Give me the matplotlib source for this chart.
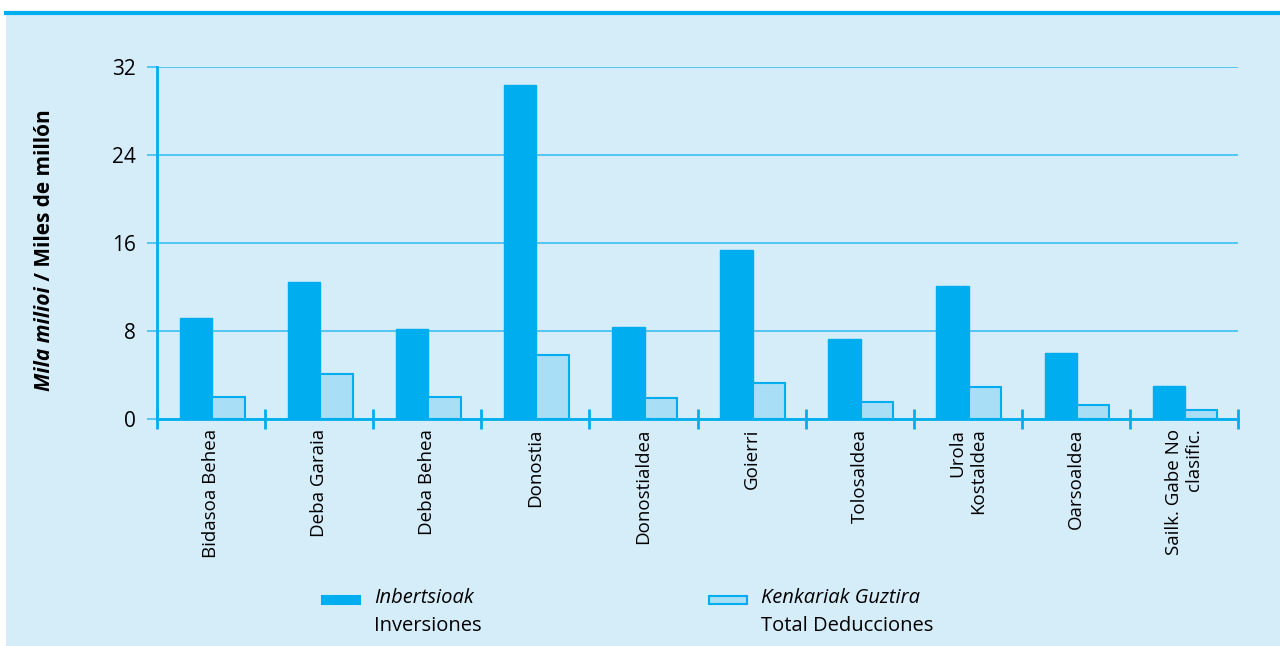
#!/usr/bin/env python3

import matplotlib
matplotlib.use('Agg')
import matplotlib.pyplot as plt
import numpy as np
from matplotlib.patches import Rectangle

# data (thousand million)
comarcas = ['Bidasoa Behea', 'Deba Garaia', 'Deba Behea', 'Donostia', 'Donostialdea',
            'Goierri', 'Tolosaldea', 'Urola\nKostaldea', 'Oarsoaldea', 'Sailk. Gabe No\nclasific.']
inversiones = [9.2, 12.45, 8.2, 30.4, 8.4, 15.4, 7.3, 12.1, 6.0, 3.0]
deducciones = [2.0, 4.1, 2.0, 5.8, 1.9, 3.3, 1.55, 2.9, 1.3, 0.8]
yticks = [0, 8, 16, 24, 32]

BLUE = '#00AEEF'
GRID = '#3DBFF2'
LIGHT = '#A8DFF6'
BG = '#D5ECF9'

plt.rcParams['font.family'] = ['Open Sans', 'DejaVu Sans']

fig = plt.figure(figsize=(12.8, 6.46), dpi=100, facecolor=BG)
W, H = 1280.0, 646.0

# white strip on top and left, blue rule
fig.patches.append(Rectangle((0, 633 / H), 1, 13 / H, transform=fig.transFigure,
                             facecolor='white', edgecolor='none', zorder=0))
fig.patches.append(Rectangle((0, 0), 6 / W, 1, transform=fig.transFigure,
                             facecolor='white', edgecolor='none', zorder=0))
fig.lines.append(plt.Line2D([6 / W, 1], [633 / H, 633 / H], transform=fig.transFigure,
                            color=BLUE, lw=3))

ax = fig.add_axes([157 / W, 227 / H, (1238 - 157) / W, (579 - 227) / H])
ax.set_facecolor('none')

x = np.arange(len(comarcas))
w = 0.3
ax.bar(x - 0.14, inversiones, w, color=BLUE, edgecolor=BLUE, lw=1, zorder=3)
ax.bar(x + 0.16, deducciones, w, color=LIGHT, edgecolor=BLUE, lw=1.5, zorder=3)

ax.set_xlim(-0.5, len(comarcas) - 0.5)
ax.set_ylim(0, 32)
ax.set_yticks(yticks)
ax.yaxis.grid(True, color=GRID, lw=1.2, zorder=1)
ax.tick_params(axis='y', colors=GRID, length=7, width=1.2, labelcolor='black', labelsize=15, pad=8)

ax.set_xticks(x)
ax.set_xticklabels(comarcas, rotation=90, fontsize=13.5, multialignment='right')
ax.tick_params(axis='x', which='major', length=0, pad=7)
ax.set_xticks(np.arange(len(comarcas) + 1) - 0.5, minor=True)
ax.tick_params(axis='x', which='minor', direction='inout', length=14, width=2, color=BLUE)

for s in ['top', 'right']:
    ax.spines[s].set_visible(False)
for s in ['left', 'bottom']:
    ax.spines[s].set_color(BLUE)
    ax.spines[s].set_linewidth(2)

# y label in two styles
t1 = fig.text(45 / W, (646 - 391) / H, 'Mila milioi', rotation=90, ha='center', va='bottom',
              fontsize=15, fontweight='bold', fontstyle='italic')
fig.canvas.draw()
bb = t1.get_window_extent()
fig.text(45 / W, bb.y1 / H, ' / Miles de millón', rotation=90, ha='center', va='bottom',
         fontsize=15, fontweight='bold')

# legend drawn by hand
legend = [(322, BLUE, 'Inbertsioak', 'Inversiones'),
          (709, LIGHT, 'Kenkariak Guztira', 'Total Deducciones')]
for lx, col, eus, esp in legend:
    fig.patches.append(Rectangle((lx / W, (646 - 604) / H), 38 / W, 8 / H, transform=fig.transFigure,
                                 facecolor=col, edgecolor=BLUE, lw=1.5))
    fig.text((lx + 52) / W, (646 - 598) / H, eus, fontstyle='italic', fontsize=14.5, va='center')
    fig.text((lx + 52) / W, (646 - 626) / H, esp, fontsize=14.5, va='center')

fig.savefig('out.png', dpi=100, facecolor=BG)
